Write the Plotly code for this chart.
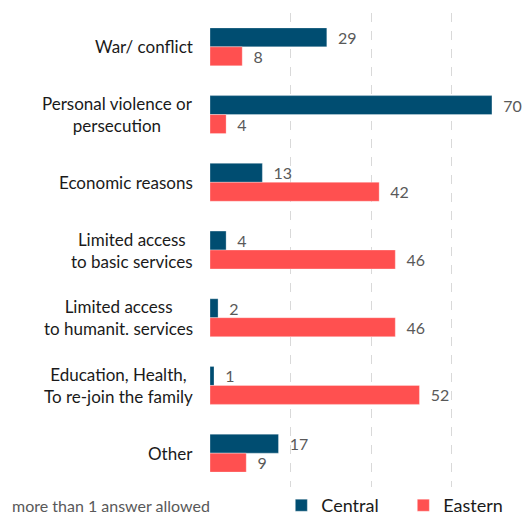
import plotly.graph_objects as go

categories = ["War/ conflict", "Personal violence or<br>persecution", "Economic reasons",
              "Limited access<br>to basic services", "Limited access<br>to humanit. services",
              "Education, Health,<br>To re-join the family", "Other"]
central = [29, 70, 13, 4, 2, 1, 17]
eastern = [8, 4, 42, 46, 46, 52, 9]

C_BLUE = "#004d71"
C_RED = "#ff5050"
FONT = "Lato"

fig = go.Figure()
for name, vals, col in [("Central", central, C_BLUE), ("Eastern", eastern, C_RED)]:
    fig.add_trace(go.Bar(
        y=list(range(len(categories))), x=vals, name=name, orientation="h",
        marker=dict(color=col, line=dict(color="rgba(255,255,255,0.6)", width=0.5)),
        text=["\u00a0\u00a0" + str(v) for v in vals], textposition="outside",
        textfont=dict(family=FONT, size=16, color="#595959"),
        cliponaxis=False,
    ))

for i, c in enumerate(categories):
    fig.add_annotation(x=0, y=i, xref="x", yref="y", text=c, showarrow=False,
                       xanchor="right", align="center", xshift=-15,
                       font=dict(family=FONT, size=17, color="#1a1a1a"))

fig.add_annotation(x=-200 / 317, y=(487 - 505) / 474, xref="paper", yref="paper",
                   text="more than 1 answer allowed",
                   showarrow=False, xanchor="left", yanchor="middle",
                   font=dict(family=FONT, size=16, color="#595959"))

fig.update_layout(
    width=527, height=515,
    margin=dict(l=210, r=0, t=13, b=28, autoexpand=False),
    paper_bgcolor="white", plot_bgcolor="white",
    barmode="group", bargap=0.44, bargroupgap=0,
    showlegend=True,
    legend=dict(orientation="h", x=0.225, y=(487 - 524) / 474, xanchor="left", yanchor="bottom",
                entrywidth=77, entrywidthmode="pixels", tracegroupgap=0,
                font=dict(family=FONT, size=18, color="#1a1a1a")),
    xaxis=dict(range=[0, 78.7], showgrid=True, gridcolor="#d9d9d9", griddash="dash",
               gridwidth=1, dtick=20, tick0=0, zeroline=False, showticklabels=False,
               showline=False, fixedrange=True),
    yaxis=dict(range=[6.5, -0.5], showticklabels=False, showgrid=False, zeroline=False,
               showline=False, fixedrange=True),
)

fig.write_html("out.html")
